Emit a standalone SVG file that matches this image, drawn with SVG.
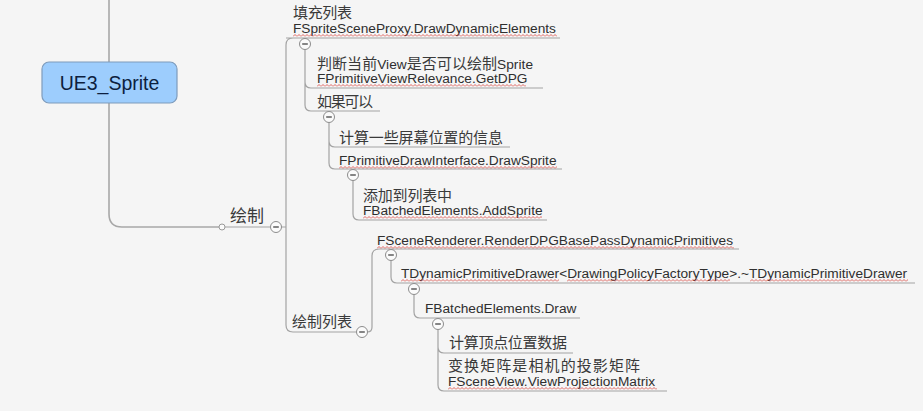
<svg xmlns="http://www.w3.org/2000/svg" width="923" height="411" viewBox="0 0 923 411">
<style>
.bg{fill:#f5f5f5}
.ln{fill:none;stroke:#a3a3a3;stroke-width:1.2}
.main{fill:none;stroke:#a8a8a8;stroke-width:1.6}
.en{font-family:"Liberation Sans",Arial,sans-serif;font-size:13.7px;fill:#2f2f2f}
.zh{font-family:"Noto Sans CJK SC","Liberation Sans",sans-serif;font-size:15px;fill:#3a3a3a}
.sq{fill:url(#sq)}
</style>
<defs>
<pattern id="sq" width="4" height="3" patternUnits="userSpaceOnUse"><path d="M0,2.5 L2,0.5 L4,2.5" fill="none" stroke="#d8403a" stroke-width="0.8"/></pattern>
<g id="c"><circle r="5.5" fill="#fbfbfb" stroke="#8c8c8c" stroke-width="1"/><path d="M-2.8,0 H2.8" stroke="#444" stroke-width="1.3"/></g>
</defs>
<rect class="bg" width="923" height="411"/>
<g id="connectors">
<path class="main" d="M109,0 V62 M109,103 V214 Q109,227 122,227 H219"/>
<path class="ln" d="M225,227 H270.5"/>
<path class="ln" d="M281.5,227 H286 M293,38 Q286,38 286,45 V325 Q286,332 293,332 H356.5 M286,38 H560"/>
<path class="ln" d="M305,49.5 V105 Q305,111 311,111 H380 M305,82 Q305,88 311,88 H543"/>
<path class="ln" d="M329,122.5 V163 Q329,169 335,169 H562 M329,141 Q329,147 335,147 H510"/>
<path class="ln" d="M353,180.5 V214 Q353,220 359,220 H547"/>
<path class="ln" d="M367.5,332 Q372,332 372,327 V256 Q372,249 379,249 H739"/>
<path class="ln" d="M391,260.5 V277 Q391,283 397,283 H915"/>
<path class="ln" d="M414,294.5 V312 Q414,318 420,318 H580"/>
<path class="ln" d="M438,329.5 V385 Q438,391 444,391 H667 M438,347 Q438,353 444,353 H573"/>
<circle cx="222" cy="227" r="3" fill="#fbfbfb" stroke="#999" stroke-width="1"/>
</g>
<g id="root">
<rect x="42" y="62" width="135" height="41" rx="7" fill="#9dcdfd" stroke="#7f9cbc" stroke-width="1.2"/>
<text x="109.5" y="90" text-anchor="middle" font-family="'Liberation Sans',Arial,sans-serif" font-size="19.5" fill="#0d1f3f">UE3_Sprite</text>
</g>
<g id="n-draw">
<text class="zh" x="230" y="222" style="font-size:17px">绘制</text>
<use href="#c" x="276" y="227"/>
</g>
<g id="n-fill">
<text class="zh" x="293" y="18" textLength="59">填充列表</text>
<text class="en" x="293" y="33">FSpriteSceneProxy.DrawDynamicElements</text>
<rect class="sq" width="264" height="3" transform="translate(293,34)"/>
<use href="#c" x="305" y="44"/>
</g>
<g id="n-judge">
<text class="zh" x="317" y="69" textLength="216">判断当前<tspan class="en">View</tspan>是否可以绘制<tspan class="en">Sprite</tspan></text>
<text class="en" x="317" y="83">FPrimitiveViewRelevance.GetDPG</text>
<rect class="sq" width="209" height="3" transform="translate(317,84)"/>
</g>
<g id="n-ifok">
<text class="zh" x="317" y="107" textLength="56">如果可以</text>
<use href="#c" x="329" y="117"/>
</g>
<g id="n-calc">
<text class="zh" x="339" y="143" textLength="164">计算一些屏幕位置的信息</text>
</g>
<g id="n-drawsprite">
<text class="en" x="339" y="165">FPrimitiveDrawInterface.DrawSprite</text>
<rect class="sq" width="218" height="3" transform="translate(339,166)"/>
<use href="#c" x="353" y="175"/>
</g>
<g id="n-add">
<text class="zh" x="363" y="201" textLength="89">添加到列表中</text>
<text class="en" x="363" y="215">FBatchedElements.AddSprite</text>
<rect class="sq" width="179" height="3" transform="translate(363,216)"/>
</g>
<g id="n-drawlist">
<text class="zh" x="292" y="327" textLength="60">绘制列表</text>
<use href="#c" x="362" y="332"/>
</g>
<g id="n-render">
<text class="en" x="377" y="245">FSceneRenderer.RenderDPGBasePassDynamicPrimitives</text>
<rect class="sq" width="357" height="3" transform="translate(377,246)"/>
<use href="#c" x="391" y="255"/>
</g>
<g id="n-tdpd">
<text class="en" x="401" y="278">TDynamicPrimitiveDrawer&lt;DrawingPolicyFactoryType&gt;.~TDynamicPrimitiveDrawer</text>
<rect class="sq" width="158" height="3" transform="translate(401,279)"/>
<rect class="sq" width="163" height="3" transform="translate(567,279)"/>
<rect class="sq" width="158" height="3" transform="translate(750,279)"/>
<use href="#c" x="414" y="289"/>
</g>
<g id="n-bedraw">
<text class="en" x="425" y="313">FBatchedElements.Draw</text>
<use href="#c" x="438" y="324"/>
</g>
<g id="n-vertex">
<text class="zh" x="449" y="348" textLength="118">计算顶点位置数据</text>
</g>
<g id="n-matrix">
<text class="zh" x="448" y="371" textLength="192">变换矩阵是相机的投影矩阵</text>
<text class="en" x="448" y="386">FSceneView.ViewProjectionMatrix</text>
<rect class="sq" width="209" height="3" transform="translate(448,387)"/>
</g>
</svg>
